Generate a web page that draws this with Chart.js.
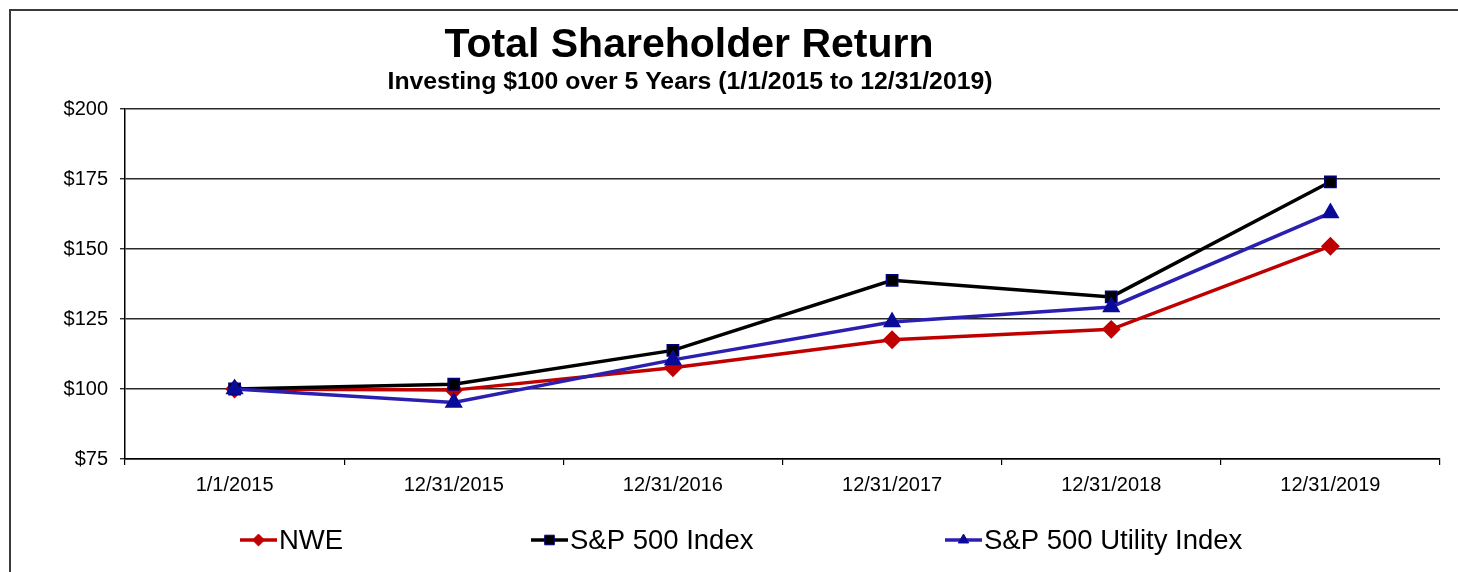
<!DOCTYPE html>
<html>
<head>
<meta charset="utf-8">
<script src="https://cdn.jsdelivr.net/npm/chart.js@4.4.1/dist/chart.umd.min.js"></script>
<style>
html,body{margin:0;padding:0;background:#fff;}
#wrap{position:relative;width:1458px;height:572px;}
canvas{display:block;}
</style>
</head>
<body>
<div id="wrap"><canvas id="c" width="1458" height="572"></canvas></div>
<script>
// ---- data ----
const categories = ["1/1/2015", "12/31/2015", "12/31/2016", "12/31/2017", "12/31/2018", "12/31/2019"];
const nweValues = [100, 99.6, 107.6, 117.6, 121.3, 151.0];
const sp500Values = [100, 101.7, 113.8, 138.8, 132.9, 174.0];
const utilityValues = [100, 95.2, 110.4, 123.9, 129.3, 162.9];
const seriesNames = ["NWE", "S&P 500 Index", "S&P 500 Utility Index"];
const yTicks = [75, 100, 125, 150, 175, 200];
const titleText = "Total Shareholder Return";
const subtitleText = "Investing $100 over 5 Years (1/1/2015 to 12/31/2019)";

const FONT = "'Liberation Sans', Arial, Helvetica, sans-serif";

const decorPlugin = {
  id: 'decor',
  beforeDraw(chart) {
    const ctx = chart.ctx;
    ctx.save();
    ctx.strokeStyle = '#3a3a3a';
    ctx.lineWidth = 2;
    ctx.beginPath();
    ctx.moveTo(10, 572);
    ctx.lineTo(10, 10);
    ctx.lineTo(1458, 10);
    ctx.stroke();
    ctx.restore();
  },
  afterDraw(chart) {
    const ctx = chart.ctx;
    ctx.save();
    ctx.fillStyle = '#000';
    ctx.textAlign = 'center';
    ctx.textBaseline = 'alphabetic';
    ctx.font = 'bold 41px ' + FONT;
    ctx.fillText(titleText, 689, 57);
    // subtitle, fitted to the reference width
    ctx.font = 'bold 23px ' + FONT;
    const w = ctx.measureText(subtitleText).width;
    const sx = 605 / w;
    ctx.save();
    ctx.translate(690, 89);
    ctx.scale(sx, 1);
    ctx.fillText(subtitleText, 0, 0);
    ctx.restore();

    // legend
    const xs = [240, 531, 945];
    const ly = 540;
    chart.data.datasets.forEach((ds, i) => {
      const x0 = xs[i];
      ctx.strokeStyle = ds.borderColor;
      ctx.lineWidth = 3.5;
      ctx.beginPath();
      ctx.moveTo(x0, ly);
      ctx.lineTo(x0 + 37, ly);
      ctx.stroke();
      ctx.fillStyle = ds.pointBackgroundColor;
      ctx.strokeStyle = ds.pointBorderColor;
      ctx.lineWidth = 1;
      Chart.helpers.drawPoint(ctx, {pointStyle: ds.pointStyle, radius: ds.pointRadius * 0.85, rotation: 0, borderWidth: 1}, x0 + 18.5, ly);
      ctx.fillStyle = '#000';
      ctx.textAlign = 'left';
      ctx.textBaseline = 'middle';
      ctx.font = '27.5px ' + FONT;
      ctx.fillText(ds.label, x0 + 39, ly + 1);
    });
    ctx.restore();
  }
};

new Chart(document.getElementById('c'), {
  type: 'line',
  data: {
    labels: categories,
    datasets: [
      {
        label: seriesNames[0], data: nweValues,
        borderColor: '#C00000', backgroundColor: '#C00000',
        pointBackgroundColor: '#C00000', pointBorderColor: '#C00000',
        pointStyle: 'rectRot', pointRadius: 7, borderWidth: 3.5, order: 3
      },
      {
        label: seriesNames[1], data: sp500Values,
        borderColor: '#000000', backgroundColor: '#000000',
        pointBackgroundColor: '#000000', pointBorderColor: '#000080',
        pointStyle: 'rect', pointRadius: 8, pointBorderWidth: 1.5, borderWidth: 3.5, order: 2
      },
      {
        label: seriesNames[2], data: utilityValues,
        borderColor: '#2B1FB0', backgroundColor: '#0A0A99',
        pointBackgroundColor: '#0A0A99', pointBorderColor: '#0A0A99',
        pointStyle: 'triangle', pointRadius: 7, borderWidth: 3.5, order: 1
      }
    ]
  },
  options: {
    responsive: false,
    animation: false,
    layout: { padding: { left: 0, right: 18, top: 109, bottom: 73 } },
    elements: { line: { tension: 0 } },
    plugins: {
      legend: { display: false },
      title: { display: false },
      tooltip: { enabled: false }
    },
    scales: {
      x: {
        offset: true,
        grid: { display: true, drawOnChartArea: false, offset: true, tickLength: 6, color: '#000', lineWidth: 1.2 },
        border: { display: true, color: '#000', width: 1.5 },
        ticks: { color: '#000', font: { family: FONT, size: 20 }, padding: 8, maxRotation: 0, autoSkip: false },
        afterFit(scale) { scale.height = 40; }
      },
      y: {
        min: 75, max: 200,
        afterBuildTicks(scale) { scale.ticks = yTicks.map(v => ({ value: v })); },
        grid: { color: '#2a2a2a', lineWidth: 1.4, tickLength: 5, drawTicks: true },
        border: { display: true, color: '#000', width: 1.5 },
        ticks: { color: '#000', font: { family: FONT, size: 20 }, padding: 12, callback: v => '$' + v },
        afterFit(scale) { scale.width = 125; }
      }
    }
  },
  plugins: [decorPlugin]
});
</script>
</body>
</html>
